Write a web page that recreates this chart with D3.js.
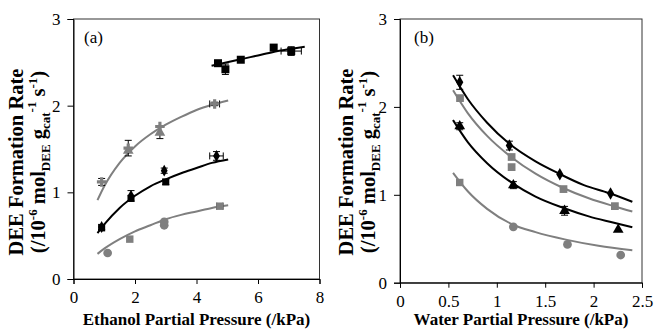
<!DOCTYPE html>
<html>
<head>
<meta charset="utf-8">
<script src="https://cdn.jsdelivr.net/npm/d3@7"></script>
<style>
  body { margin: 0; background: #fff; }
  svg text { font-family: "Liberation Serif", "Times New Roman", serif; }
</style>
</head>
<body>
<svg id="chart" width="654" height="335"></svg>
<script>
// points are [x, y, xError, yError]
// panel (a) - ethanol partial pressure
var aTopSquares = [[4.70,2.49,0,0],[4.94,2.42,0,0.06],[5.44,2.53,0,0],[6.51,2.67,0,0],[7.08,2.63,0.33,0.05]];
var aUpperCross = [[0.915,1.12,0,0.04],[1.78,1.51,0,0.09],[2.81,1.76,0,0],[4.59,2.02,0.16,0.02]];
var aUpperTri = [[1.78,1.48,0,0],[2.81,1.69,0,0.07]];
var aMidDiamond = [[0.915,0.60,0,0.03],[1.87,0.96,0,0.06],[2.95,1.25,0,0.03],[4.65,1.42,0.22,0.05]];
var aMidSquare = [[0.915,0.59,0,0],[1.87,0.93,0,0],[3.0,1.12,0,0.03]];
var aLowSquare = [[1.83,0.46,0,0],[4.76,0.84,0.1,0]];
var aLowCircle = [[1.11,0.30,0,0],[2.95,0.62,0,0],[2.95,0.66,0,0]];

var aFitTop = [[4.49,2.46],[5,2.50],[5.5,2.54],[6,2.58],[6.5,2.62],[7,2.65],[7.52,2.68]];
var aFitUpper = [[0.78,0.91],[1,1.07],[1.5,1.34],[2,1.53],[2.5,1.67],[3,1.78],[3.5,1.87],[4,1.95],[4.5,2.01],[5.03,2.06]];
var aFitMid = [[0.78,0.53],[1,0.63],[1.5,0.82],[2,0.96],[2.5,1.07],[3,1.15],[3.5,1.22],[4,1.28],[4.5,1.34],[5.03,1.38]];
var aFitLow = [[0.78,0.29],[1,0.35],[1.5,0.46],[2,0.55],[2.5,0.62],[3,0.69],[3.5,0.74],[4,0.78],[4.5,0.82],[5.03,0.85]];

// panel (b) - water partial pressure
var bTopDiamond = [[0.617,2.28,0,0.08],[1.13,1.56,0,0.05],[1.651,1.235,0,0],[2.175,1.016,0,0]];
var bSecSquare = [[0.62,2.10,0,0],[1.153,1.43,0,0],[1.153,1.315,0,0],[1.689,1.065,0,0],[2.22,0.871,0,0]];
var bThirdTri = [[0.617,1.78,0,0.04],[1.171,1.11,0,0.04],[1.70,0.818,0,0.05],[2.254,0.603,0,0]];
var bLowSquare = [[0.617,1.14,0,0]];
var bLowCircle = [[1.171,0.636,0,0],[1.73,0.436,0,0],[2.28,0.315,0,0]];

var bFitTop = [[0.548,2.36],[0.7,2.09],[0.9,1.82],[1.13,1.58],[1.4,1.38],[1.644,1.24],[1.9,1.11],[2.158,1.02],[2.4,0.92]];
var bFitSec = [[0.548,2.19],[0.7,1.93],[0.9,1.67],[1.148,1.43],[1.4,1.24],[1.68,1.08],[1.95,0.96],[2.21,0.87],[2.4,0.81]];
var bFitThird = [[0.548,1.85],[0.7,1.60],[0.9,1.36],[1.165,1.13],[1.4,0.98],[1.69,0.85],[1.95,0.755],[2.2,0.685],[2.4,0.63]];
var bFitLow = [[0.548,1.25],[0.7,1.04],[0.9,0.84],[1.148,0.67],[1.4,0.575],[1.713,0.49],[2.05,0.42],[2.4,0.37]];

var aXTicks = [0, 2, 4, 6, 8];
var bXTicks = [0, 0.5, 1, 1.5, 2, 2.5];
var yTicks = [0, 1, 2, 3];

var BLACK = "#000", GRAY = "#7f7f7f";
var SERIF = "'Liberation Serif', 'Times New Roman', serif";
var svg = d3.select("#chart");
svg.append("rect").attr("width", 654).attr("height", 335).attr("fill", "#fff");

function drawPanel(opt) {
  var x = d3.scaleLinear().domain(opt.xDomain).range([opt.left, opt.right]);
  var y = d3.scaleLinear().domain([0, 3]).range([opt.bottom, opt.top]);
  var g = svg.append("g");

  // frame
  g.append("rect")
    .attr("x", opt.left).attr("y", opt.top)
    .attr("width", opt.right - opt.left).attr("height", opt.bottom - opt.top)
    .attr("fill", "none").attr("stroke", "#333").attr("stroke-width", 1);

  var xAxis = d3.axisBottom(x).tickValues(opt.xTicks).tickSize(5).tickPadding(7)
    .tickFormat(d3.format("~g"));
  var yAxis = d3.axisLeft(y).tickValues(yTicks).tickSize(6).tickPadding(7)
    .tickFormat(d3.format("~g"));

  var gx = g.append("g").attr("transform", "translate(0," + opt.bottom + ")").call(xAxis);
  var gy = g.append("g").attr("transform", "translate(" + opt.left + ",0)").call(yAxis);
  [gx, gy].forEach(function(a) {
    a.attr("font-family", SERIF).attr("font-size", 17);
    a.select(".domain").attr("stroke", "#000");
    a.selectAll(".tick line").attr("stroke", "#000");
    a.selectAll(".tick text").attr("fill", "#000");
  });

  var line = d3.line().curve(d3.curveMonotoneX)
    .x(function(d) { return x(d[0]); })
    .y(function(d) { return y(d[1]); });

  opt.fits.forEach(function(f) {
    g.append("path").datum(f.data).attr("d", line)
      .attr("fill", "none").attr("stroke", f.color).attr("stroke-width", 2);
  });

  opt.marks.forEach(function(m) {
    // error bars
    m.data.forEach(function(d) {
      var cx = x(d[0]), cy = y(d[1]);
      if (d[3] > 0) {
        var y1 = y(d[1] + d[3]), y2 = y(d[1] - d[3]);
        g.append("line").attr("x1", cx).attr("x2", cx).attr("y1", y1).attr("y2", y2)
          .attr("stroke", "#000").attr("stroke-width", 1);
        [y1, y2].forEach(function(yy) {
          g.append("line").attr("x1", cx - 3.5).attr("x2", cx + 3.5).attr("y1", yy).attr("y2", yy)
            .attr("stroke", "#000").attr("stroke-width", 1);
        });
      }
      if (d[2] > 0) {
        var x1 = x(d[0] - d[2]), x2 = x(d[0] + d[2]);
        g.append("line").attr("x1", x1).attr("x2", x2).attr("y1", cy).attr("y2", cy)
          .attr("stroke", "#000").attr("stroke-width", 1);
        [x1, x2].forEach(function(xx) {
          g.append("line").attr("x1", xx).attr("x2", xx).attr("y1", cy - 3.5).attr("y2", cy + 3.5)
            .attr("stroke", "#000").attr("stroke-width", 1);
        });
      }
    });
    var sym = d3.symbol().type(m.type).size(m.size);
    g.selectAll(null).data(m.data).enter().append("path")
      .attr("d", sym)
      .attr("transform", function(d) { return "translate(" + x(d[0]) + "," + y(d[1]) + ")"; })
      .attr("fill", m.color);
  });

  g.append("text").attr("x", opt.labelX).attr("y", 43)
    .style("font-size", "17px").text(opt.label);

  g.append("text")
    .attr("x", (opt.left + opt.right) / 2).attr("y", 325)
    .attr("text-anchor", "middle")
    .style("font-size", "17px").style("font-weight", "bold")
    .text(opt.xTitle);

  // y title, two lines rotated
  var ty = g.append("text")
    .attr("transform", "translate(" + opt.titleX + ",162) rotate(-90)")
    .attr("text-anchor", "middle")
    .style("font-size", "20.5px").style("font-weight", "bold");
  ty.append("tspan").attr("x", 0).attr("y", 0).text("DEE Formation Rate");
  var t2 = ty.append("tspan").attr("x", 0).attr("y", 22);
  var small = "13px";
  t2.append("tspan").text("(/10");
  t2.append("tspan").attr("dy", -8).style("font-size", small).text("-6");
  t2.append("tspan").attr("dy", 8).text(" mol");
  t2.append("tspan").attr("dy", 5).style("font-size", small).text("DEE");
  t2.append("tspan").attr("dy", -5).text(" g");
  t2.append("tspan").attr("dy", 5).style("font-size", small).text("cat");
  t2.append("tspan").attr("dy", -14).style("font-size", small).text("-1");
  t2.append("tspan").attr("dy", 9).text(" s");
  t2.append("tspan").attr("dy", -8).style("font-size", small).text("-1");
  t2.append("tspan").attr("dy", 8).text(")");
}

drawPanel({
  left: 73.5, right: 319.5, top: 19, bottom: 279,
  xDomain: [0, 8], xTicks: aXTicks,
  label: "(a)", labelX: 84, titleX: 23,
  xTitle: "Ethanol Partial Pressure (/kPa)",
  fits: [
    {data: aFitTop, color: BLACK},
    {data: aFitUpper, color: GRAY},
    {data: aFitMid, color: BLACK},
    {data: aFitLow, color: GRAY}
  ],
  marks: [
    {data: aTopSquares, type: d3.symbolSquare, size: 64, color: BLACK},
    {data: aUpperTri, type: d3.symbolTriangle, size: 50, color: GRAY},
    {data: aUpperCross, type: d3.symbolCross, size: 50, color: GRAY},
    {data: aMidSquare, type: d3.symbolSquare, size: 50, color: BLACK},
    {data: aMidDiamond, type: d3.symbolDiamond, size: 40, color: BLACK},
    {data: aLowSquare, type: d3.symbolSquare, size: 55, color: GRAY},
    {data: aLowCircle, type: d3.symbolCircle, size: 60, color: GRAY}
  ]
});

drawPanel({
  left: 400, right: 642, top: 19, bottom: 282.7,
  xDomain: [0, 2.5], xTicks: bXTicks,
  label: "(b)", labelX: 414, titleX: 353,
  xTitle: "Water Partial Pressure (/kPa)",
  fits: [
    {data: bFitTop, color: BLACK},
    {data: bFitSec, color: GRAY},
    {data: bFitThird, color: BLACK},
    {data: bFitLow, color: GRAY}
  ],
  marks: [
    {data: bTopDiamond, type: d3.symbolDiamond, size: 45, color: BLACK},
    {data: bSecSquare, type: d3.symbolSquare, size: 60, color: GRAY},
    {data: bThirdTri, type: d3.symbolTriangle, size: 50, color: BLACK},
    {data: bLowSquare, type: d3.symbolSquare, size: 55, color: GRAY},
    {data: bLowCircle, type: d3.symbolCircle, size: 60, color: GRAY}
  ]
});
</script>
</body>
</html>
